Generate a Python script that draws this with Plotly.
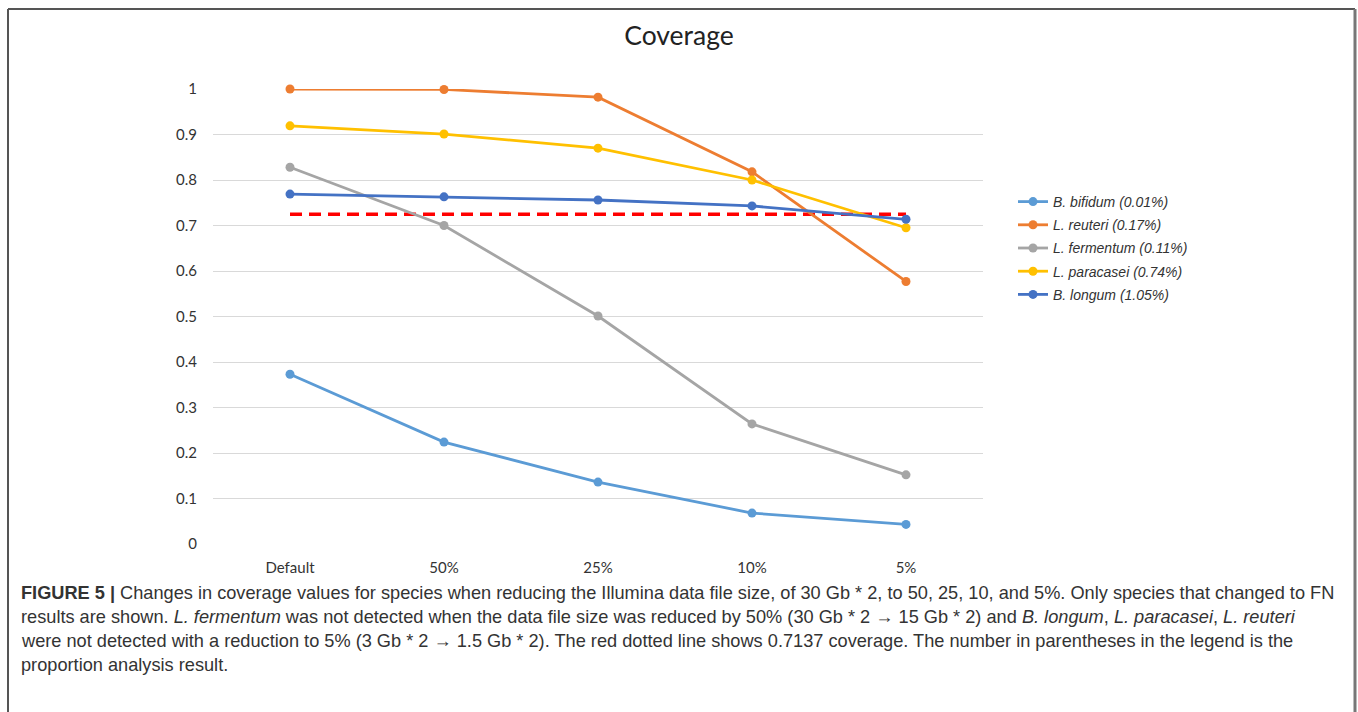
import plotly.graph_objects as go

categories = ["Default", "50%", "25%", "10%", "5%"]
b_bifidum = [0.373, 0.224, 0.136, 0.068, 0.043]
l_reuteri = [1.0, 0.999, 0.982, 0.818, 0.577]
l_fermentum = [0.828, 0.700, 0.501, 0.264, 0.152]
l_paracasei = [0.919, 0.901, 0.870, 0.800, 0.695]
b_longum = [0.769, 0.763, 0.756, 0.743, 0.7137]
threshold = 0.725
y_tickvals = [0, 0.1, 0.2, 0.3, 0.4, 0.5, 0.6, 0.7, 0.8, 0.9, 1.0]
y_ticktext = ["0", "0.1", "0.2", "0.3", "0.4", "0.5", "0.6", "0.7", "0.8", "0.9", "1"]

series = [
    ("<i>B. bifidum (0.01%)</i>", b_bifidum, "#5B9BD5"),
    ("<i>L. reuteri (0.17%)</i>", l_reuteri, "#ED7D31"),
    ("<i>L. fermentum (0.11%)</i>", l_fermentum, "#A5A5A5"),
    ("<i>L. paracasei (0.74%)</i>", l_paracasei, "#FFC000"),
    ("<i>B. longum (1.05%)</i>", b_longum, "#4472C4"),
]

W, H = 1358, 712
L, R, T, B = 213, 983, 89, 544

def px(x):
    return (x - L) / (R - L)

def py(y):
    return (B - y) / (B - T)

fig = go.Figure()
xs = list(range(len(categories)))
fig.add_trace(go.Scatter(
    x=xs, y=[threshold] * len(categories), mode="lines",
    line=dict(color="#FF0000", width=3.5, dash="12px,7px"),
    showlegend=False, hoverinfo="skip", cliponaxis=False))
for i, (name, vals, col) in enumerate(series):
    fig.add_trace(go.Scatter(
        x=xs, y=vals, mode="lines+markers", name=name, legendgroup=f"g{i}",
        line=dict(color=col, width=2.8),
        marker=dict(color=col, size=9),
        cliponaxis=False))

fig.update_layout(
    width=W, height=H,
    margin=dict(l=L, r=W - R, t=T, b=H - B, autoexpand=False),
    paper_bgcolor="white", plot_bgcolor="white",
    title=dict(text="Coverage", x=0.5, xref="container", xanchor="center",
               y=1 - 36 / H, yanchor="middle", yref="container",
               font=dict(family="Lato, Open Sans, sans-serif", size=26.5, color="#222222")),
    font=dict(family="Lato, Open Sans, sans-serif", color="#333333"),
    legend=dict(x=px(1013), y=py(186), xanchor="left", yanchor="top",
                font=dict(family="Liberation Sans, Arial, sans-serif", size=14, color="#333333"),
                tracegroupgap=2, itemwidth=30, bgcolor="rgba(0,0,0,0)"),
    showlegend=True,
)
fig.update_xaxes(range=[-0.5, len(categories) - 0.5], tickvals=xs, ticktext=categories,
                 showgrid=False, zeroline=False, showline=False, ticks="",
                 ticklabelstandoff=13,
                 tickfont=dict(family="Lato, Open Sans, sans-serif", size=15, color="#333333"))
fig.update_yaxes(range=[0, 1], tickvals=y_tickvals, ticktext=y_ticktext,
                 showgrid=True, gridcolor="#D9D9D9", gridwidth=1,
                 zeroline=False, showline=False, ticks="", ticklabelstandoff=15,
                 tickfont=dict(family="Lato, Open Sans, sans-serif", size=15, color="#333333"))

# frame
frame = dict(type="line", xref="paper", yref="paper", line=dict(color="#555555", width=2))
fig.add_shape(**frame, x0=px(8), x1=px(8), y0=py(9), y1=py(712))
fig.add_shape(**frame, x0=px(8), x1=px(1355), y0=py(9), y1=py(9))
fig.add_shape(type="line", xref="paper", yref="paper", line=dict(color="#777777", width=3),
              x0=px(1355), x1=px(1355), y0=py(9), y1=py(712))

caption_lines = [
    "<b>FIGURE 5 |</b> Changes in coverage values for species when reducing the Illumina data file size, of 30 Gb * 2, to 50, 25, 10, and 5%. Only species that changed to FN",
    "results are shown. <i>L. fermentum</i> was not detected when the data file size was reduced by 50% (30 Gb * 2 → 15 Gb * 2) and <i>B. longum</i>, <i>L. paracasei</i>, <i>L. reuteri</i>",
    "were not detected with a reduction to 5% (3 Gb * 2 → 1.5 Gb * 2). The red dotted line shows 0.7137 coverage. The number in parentheses in the legend is the",
    "proportion analysis result.",
]
for i, line in enumerate(caption_lines):
    fig.add_annotation(text=line, xref="paper", yref="paper",
                       x=px(19), y=py(593 + 24 * i), xanchor="left", yanchor="middle",
                       showarrow=False, align="left",
                       font=dict(family="Liberation Sans Narrow, Arial Narrow, sans-serif",
                                 size=18.2, color="#333333"))

fig.write_html("out.html", config={"displayModeBar": False},
               post_script="document.body.style.margin='0px';document.body.style.overflow='hidden';")
